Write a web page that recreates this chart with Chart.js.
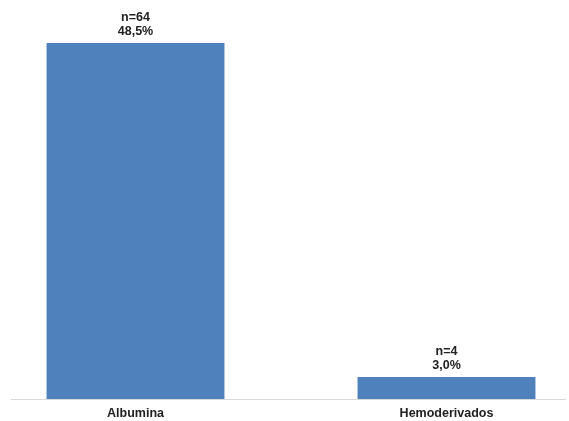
<!DOCTYPE html>
<html>
<head>
<meta charset="utf-8">
<script src="https://cdn.jsdelivr.net/npm/chart.js@4/dist/chart.umd.min.js"></script>
<style>
  html, body { margin: 0; padding: 0; background: #fff; overflow: hidden; }
  #wrap { position: absolute; left: -20px; top: 0; width: 622px; height: 430px; }
</style>
</head>
<body>
<div id="wrap"><canvas id="chart-hemo"></canvas></div>
<script>
var categorias = ["Albumina", "Hemoderivados"];
var porcentajes = [48.5, 3.0];
var casos = [64, 4];
var barColor = "#4f81bd";

// texto "n=.." y "..%" encima de cada barra
const etiquetas = {
  id: "etiquetas",
  afterDatasetsDraw(chart) {
    const ctx = chart.ctx;
    const meta = chart.getDatasetMeta(0);
    ctx.save();
    ctx.font = "bold 12.5px 'Liberation Sans', Arial, sans-serif";
    ctx.fillStyle = "#222";
    ctx.textAlign = "center";
    ctx.textBaseline = "middle";
    meta.data.forEach((bar, i) => {
      ctx.fillText("n=" + casos[i], bar.x, bar.y - 25);
      ctx.fillText(porcentajes[i].toFixed(1).replace(".", ",") + "%", bar.x, bar.y - 11);
    });
    ctx.restore();
  }
};

// linea base gris
const lineaBase = {
  id: "lineaBase",
  beforeDatasetsDraw(chart) {
    const ctx = chart.ctx;
    const y = chart.scales.y.getPixelForValue(0) + 0.5;
    ctx.save();
    ctx.strokeStyle = "#d9d9d9";
    ctx.lineWidth = 1;
    ctx.beginPath();
    ctx.moveTo(31, y);
    ctx.lineTo(586, y);
    ctx.stroke();
    ctx.restore();
  }
};

new Chart("chart-hemo", {
  type: "bar",
  data: {
    labels: categorias,
    datasets: [{
      data: porcentajes,
      backgroundColor: barColor,
      categoryPercentage: 1,
      barPercentage: 0.572
    }]
  },
  options: {
    responsive: true,
    maintainAspectRatio: false,
    animation: false,
    layout: { padding: { top: 32, bottom: 2, left: 0, right: 0 } },
    plugins: {
      legend: { display: false },
      tooltip: { enabled: false }
    },
    scales: {
      y: {
        display: false,
        min: 0,
        max: 50
      },
      x: {
        grid: { display: false, drawTicks: false },
        border: { display: false },
        ticks: {
          padding: 7,
          color: "#222",
          font: { family: "'Liberation Sans', Arial, sans-serif", size: 12.5, weight: "bold" }
        }
      }
    }
  },
  plugins: [lineaBase, etiquetas]
});
</script>
</body>
</html>
